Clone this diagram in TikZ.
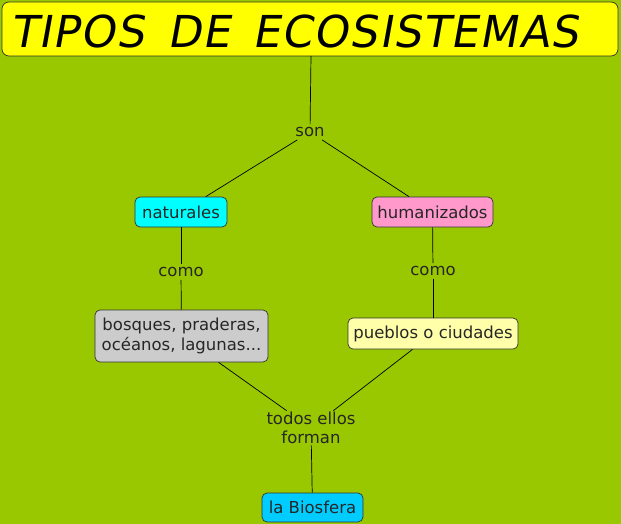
\documentclass[tikz,border=0pt]{standalone}
\usepackage{fontspec}
\setmainfont{DejaVu Sans}
\newfontfamily\titlefont[FakeSlant=0.18, LetterSpace=3]{DejaVu Sans}
\definecolor{bggreen}{RGB}{153,200,0}
\definecolor{titleyellow}{RGB}{255,255,0}
\definecolor{natcyan}{RGB}{0,255,255}
\definecolor{humpink}{RGB}{255,153,204}
\definecolor{boxgray}{RGB}{204,204,204}
\definecolor{lightyellow}{RGB}{255,255,170}
\definecolor{biocyan}{RGB}{0,204,255}
\tikzset{
  concept/.style={draw=black!80, rounded corners=5pt, line width=0.7pt, font=\fontsize{16.5}{19.5}\selectfont, text=black!85, align=center, inner sep=0pt},
  linklabel/.style={font=\fontsize{16.5}{19.5}\selectfont, text=black!85, align=center, inner sep=3pt},
  conn/.style={draw=black, line width=0.7pt}
}
\begin{document}
\begin{tikzpicture}[x=1pt,y=-1pt]
\fill[bggreen] (0,0) rectangle (621,524);
\useasboundingbox (0,0) rectangle (621,524);
\node[concept, fill=titleyellow, minimum width=616pt, minimum height=54pt, rounded corners=7pt] (title) at (310,29) {};
\node[anchor=west, inner sep=0pt, font=\titlefont\fontsize{44}{48}\selectfont] (titletext) at (10,31) {TIPOS\, DE\, ECOSISTEMAS};
\node[linklabel] (son) at (310,132) {son};
\node[concept, fill=natcyan, minimum width=92pt, minimum height=30pt] (nat) at (181,212) {naturales};
\node[concept, fill=humpink, minimum width=121pt, minimum height=30pt] (hum) at (432.5,212) {humanizados};
\node[linklabel] (como1) at (181,272) {como};
\node[linklabel] (como2) at (433,271) {como};
\node[concept, fill=boxgray, minimum width=173pt, minimum height=52pt] (bos) at (181.5,336) {bosques, praderas,\\oc\'eanos, lagunas...};
\node[concept, fill=lightyellow, minimum width=170pt, minimum height=31pt] (pue) at (433,333.5) {pueblos o ciudades};
\node[linklabel, inner sep=1pt] (todos) at (311,428) {todos ellos\\forman};
\node[concept, fill=biocyan, minimum width=101pt, minimum height=29pt] (bio) at (312.5,507.5) {la Biosfera};
\draw[conn] (311,56) -- (son);
\draw[conn] (son) -- (nat);
\draw[conn] (son) -- (hum);
\draw[conn] (nat) -- (como1);
\draw[conn] (como1) -- (bos);
\draw[conn] (hum) -- (como2);
\draw[conn] (como2) -- (pue);
\draw[conn] (bos) -- (todos);
\draw[conn] (pue) -- (todos);
\draw[conn] (todos) -- (bio);
\end{tikzpicture}
\end{document}
